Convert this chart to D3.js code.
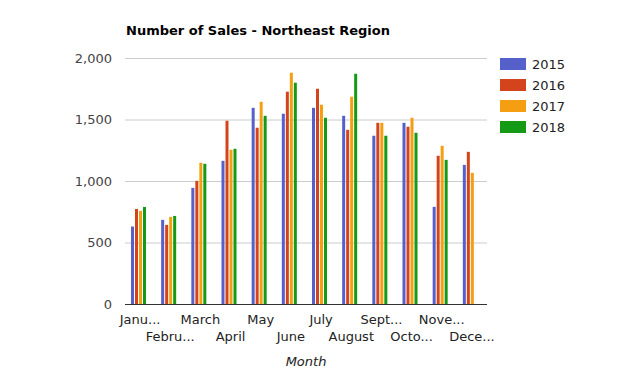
<!DOCTYPE html>
<html>
<head>
<meta charset="utf-8">
<script src="https://cdn.jsdelivr.net/npm/d3@7"></script>
<style>
  body { margin: 0; background: #fff; }
  text { font-family: "DejaVu Sans", Verdana, sans-serif; }
</style>
</head>
<body>
<div class="content"></div>
<script>
var months = ['January','February','March','April','May','June','July','August','September','October','November','December'];
var monthLabels = ['Janu...','Febru...','March','April','May','June','July','August','Sept...','Octo...','Nove...','Dece...'];
var years = ['2015','2016','2017','2018'];
var colors = ['#5560cb','#d3441c','#f59e12','#149a14'];

var sales2015 = [630, 684, 944, 1164, 1595, 1547, 1595, 1530, 1368, 1473, 790, 1131];
var sales2016 = [773, 643, 1001, 1490, 1433, 1726, 1750, 1416, 1473, 1441, 1205, 1237];
var sales2017 = [757, 708, 1148, 1254, 1644, 1880, 1620, 1685, 1473, 1514, 1286, 1066];
var sales2018 = [789, 716, 1140, 1262, 1530, 1799, 1514, 1872, 1368, 1392, 1172, 0];
var yTicks = [0, 500, 1000, 1500, 2000];

var series = [sales2015, sales2016, sales2017, sales2018];
var data = months.map(function(m, i) {
  return {
    month: m,
    values: years.map(function(y, j) { return {year: y, value: series[j][i]}; })
  };
});

var svg = d3.select('.content')
  .append('svg')
  .attr('width', 631)
  .attr('height', 376);

var plotLeft = 125, plotRight = 487, plotTop = 58, plotBottom = 304;

var x = d3.scaleBand().domain(months).range([plotLeft, plotRight]);
var xSub = d3.scaleBand().domain(years).range([0, 15]).paddingInner(0.25);
var y = d3.scaleLinear().domain([0, 2000]).range([plotBottom, plotTop]);
var color = d3.scaleOrdinal().domain(years).range(colors);

// title
svg.append('text')
  .attr('x', 126)
  .attr('y', 35)
  .style('font-size', '13px')
  .style('font-weight', 'bold')
  .style('fill', '#000')
  .text('Number of Sales - Northeast Region');

// grid + y labels
var axis_y = svg.append('g')
  .attr('class', 'axis axis--y')
  .attr('transform', 'translate(' + plotLeft + ',0)')
  .call(d3.axisLeft(y).tickValues(yTicks).tickSize(-(plotRight - plotLeft)).tickPadding(13)
    .tickFormat(d3.format(',')));
axis_y.select('.domain').remove();
axis_y.selectAll('line').attr('stroke', '#cccccc');
axis_y.selectAll('text')
  .style('font-size', '13px')
  .style('fill', '#444');

// bars
svg.append('g')
  .selectAll('g')
  .data(data)
  .enter()
  .append('g')
  .attr('transform', function(d) { return 'translate(' + (x(d.month) + 6) + ',0)'; })
  .selectAll('rect')
  .data(function(d) { return d.values; })
  .enter()
  .append('rect')
  .attr('x', function(d) { return xSub(d.year); })
  .attr('width', xSub.bandwidth())
  .attr('y', function(d) { return y(d.value); })
  .attr('height', function(d) { return plotBottom - y(d.value); })
  .attr('fill', function(d) { return color(d.year); });

// baseline
svg.append('line')
  .attr('x1', plotLeft).attr('x2', plotRight)
  .attr('y1', plotBottom + 0.5).attr('y2', plotBottom + 0.5)
  .attr('stroke', '#333');

// x labels, staggered
var axis_x = svg.append('g')
  .attr('class', 'axis axis--x')
  .attr('transform', 'translate(0,' + plotBottom + ')')
  .call(d3.axisBottom(x).tickSize(0).tickFormat(function(d, i) { return monthLabels[i]; }));
axis_x.select('.domain').remove();
axis_x.selectAll('text')
  .attr('dy', null)
  .attr('y', function(d, i) { return i % 2 === 0 ? 20 : 37; })
  .style('font-size', '13px')
  .style('fill', '#222');

svg.append('text')
  .attr('x', (plotLeft + plotRight) / 2)
  .attr('y', 366)
  .attr('text-anchor', 'middle')
  .style('font-size', '13px')
  .style('font-style', 'italic')
  .style('fill', '#222')
  .text('Month');

// legend
var legend = svg.append('g')
  .selectAll('g')
  .data(years)
  .enter()
  .append('g')
  .attr('transform', function(d, i) { return 'translate(500,' + (58 + i * 21) + ')'; });
legend.append('rect')
  .attr('width', 26)
  .attr('height', 12)
  .attr('fill', function(d) { return color(d); });
legend.append('text')
  .attr('x', 32)
  .attr('y', 11)
  .style('font-size', '13px')
  .style('fill', '#222')
  .text(function(d) { return d; });
</script>
</body>
</html>
